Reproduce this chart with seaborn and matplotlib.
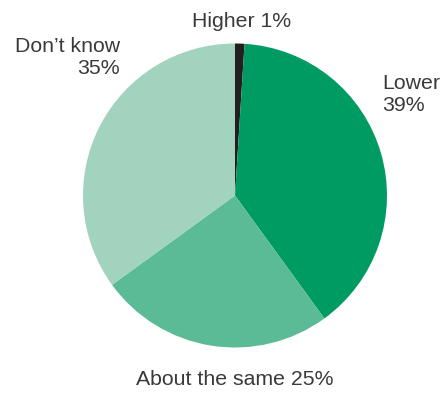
import matplotlib
matplotlib.use("Agg")
import matplotlib.pyplot as plt
import seaborn as sns

labels = ["Higher", "Lower", "About the same", "Don\u2019t know"]
values = [1, 39, 25, 35]
colors = ["#231f20", "#009b63", "#5bbb96", "#a1d3bf"]

sns.set_style("white")
plt.rcParams["font.family"] = ["Liberation Sans", "DejaVu Sans"]
plt.rcParams["font.size"] = 15.3

fig = plt.figure(figsize=(4.48, 3.94), dpi=100)
ax = fig.add_axes([83 / 448, 46 / 394, 304 / 448, 305 / 394])

ax.pie(values, colors=colors, startangle=90, counterclock=False,
       wedgeprops=dict(linewidth=0))
ax.set_xlim(-1, 1)
ax.set_ylim(-1, 1)
ax.set_aspect("equal")

tc = "#3a3a3a"
ax.text(0.04, 1.145, f"{labels[0]} {values[0]}%", ha="center", va="center", color=tc, clip_on=False)
ax.text(0.967, 0.665, f"{labels[1]}\n{values[1]}%", ha="left", va="center", color=tc, clip_on=False)
ax.text(0.0, -1.21, f"{labels[2]} {values[2]}%", ha="center", va="center", color=tc, clip_on=False)
ax.text(-0.757, 0.91, f"{labels[3]}\n{values[3]}%", ha="right", va="center", multialignment="right", color=tc, clip_on=False)

fig.savefig("out.png", dpi=100)
